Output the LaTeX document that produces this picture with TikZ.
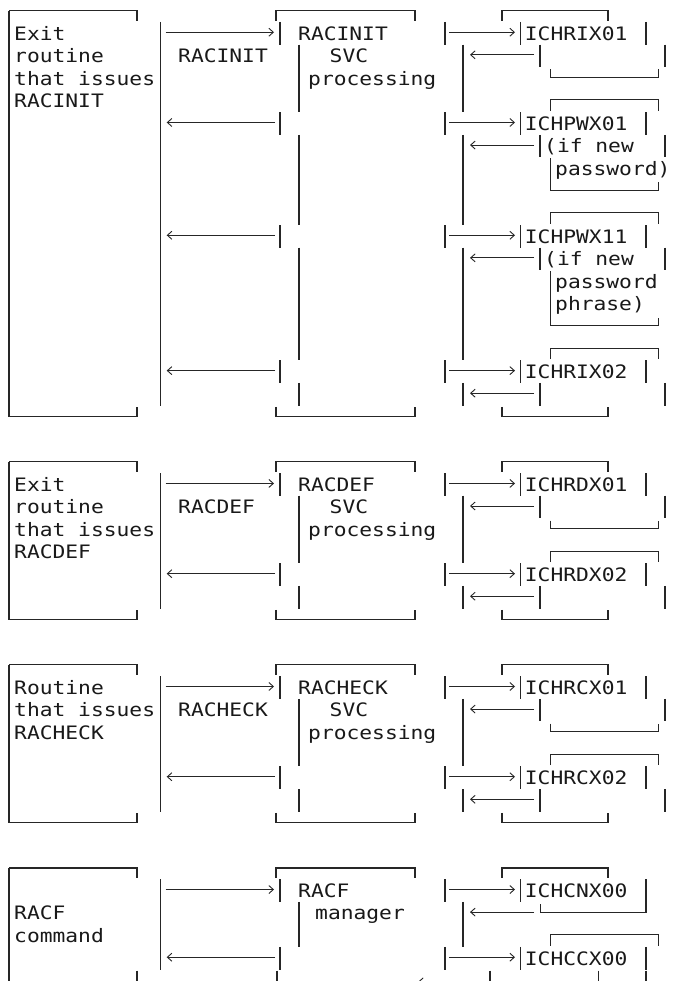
\documentclass[tikz,border=0pt]{standalone}
\usepackage{fontspec}
\newfontfamily\asciimono[FakeStretch=1.15]{DejaVu Sans Mono}
\usetikzlibrary{arrows.meta}

\begin{document}
\begin{tikzpicture}[
  x=1pt, y=-22.56pt,
  >={Straight Barb[length=4.5pt,width=8pt]},
  rule/.style={line width=1.05pt, draw=black!85},
  flow/.style={line width=0.9pt, draw=black!85, ->},
  txt/.style={font=\asciimono\fontsize{18.5}{20}\selectfont, anchor=base west, inner sep=0pt, text=black!90},
]

\useasboundingbox (0pt,0pt) rectangle (673pt,-981pt);
\fill[white] (0pt,0pt) rectangle (673pt,-981pt);
\clip (0pt,0pt) rectangle (673pt,-981pt);

\begin{scope}[yshift=-10.7pt]

% --- Box tops and bottoms ---
\foreach \ry in {0, 20, 29, 38} {
  \draw[rule] (9,\ry) -- (137,\ry) -- (137,\ry+0.44);
  \draw[rule] (276,\ry+0.44) -- (276,\ry) -- (415,\ry) -- (415,\ry+0.44);
  \draw[rule] (502,\ry+0.44) -- (502,\ry) -- (608,\ry) -- (608,\ry+0.44);
}
\foreach \ry in {18, 27, 36} {
  \draw[rule] (9,\ry) -- (137,\ry) -- (137,\ry-0.44);
  \draw[rule] (276,\ry-0.44) -- (276,\ry) -- (415,\ry) -- (415,\ry-0.44);
  \draw[rule] (502,\ry-0.44) -- (502,\ry) -- (608,\ry) -- (608,\ry-0.44);
}

% --- Caller box sides ---
\foreach \ya/\yb in {0/18, 20/27, 29/36, 38/44}
  \draw[rule] (9,\ya) -- (9,\yb);
\foreach \ya/\yb in {0.5/17.5, 20.5/26.5, 29.5/35.5, 38.5/42.5}
  \draw[rule] (160.7,\ya) -- (160.7,\yb);

% --- Rows with a forward arrow to an exit ---
\foreach \ry in {1, 5, 10, 16, 21, 25, 30, 34, 39, 42} {
  \foreach \x in {280, 445, 520.7, 646}
    \draw[rule] (\x,\ry-0.5) -- (\x,\ry+0.5);
  \draw[flow] (449,\ry-0.045) -- (515,\ry-0.045);
}
\foreach \ry in {1, 21, 30, 39}
  \draw[flow] (165.7,\ry-0.045) -- (274,\ry-0.045);
\foreach \ry in {5, 10, 16, 25, 34, 42}
  \draw[flow] (275,\ry-0.045) -- (166.7,\ry-0.045);

% --- Plain rows ---
\foreach \ya/\yb in {1.5/4.5, 5.5/9.5, 10.5/15.5, 16.5/17.5, 21.5/24.5, 25.5/26.5, 30.5/33.5, 34.5/35.5, 39.5/41.5} {
  \draw[rule] (299,\ya) -- (299,\yb);
  \draw[rule] (463,\ya) -- (463,\yb);
}

% Return from exit
\foreach \ry in {2, 6, 11, 17, 22, 26, 31, 35, 40}
  \draw[flow] (534,\ry-0.045) -- (470,\ry-0.045);
\foreach \ry in {2, 6, 11, 17, 22, 26, 31, 35} {
  \draw[rule] (540,\ry-0.5) -- (540,\ry+0.5);
  \draw[rule] (665,\ry-0.5) -- (665,\ry+0.5);
}

% --- Exit boxes ---
\foreach \ry in {3, 8, 14, 23, 32}
  \draw[rule] (550.7,\ry-0.4) -- (550.7,\ry-0.045) -- (658.3,\ry-0.045) -- (658.3,\ry-0.4);
\foreach \ry in {4, 9, 15, 24, 33, 41}
  \draw[rule] (550.7,\ry+0.44) -- (550.7,\ry-0.045) -- (658.3,\ry-0.045) -- (658.3,\ry+0.44);
\draw[rule] (550.7,6.55) -- (550.7,7.6);
\draw[rule] (550.7,11.55) -- (550.7,13.6);
\draw[rule] (540.7,39.6) -- (540.7,39.955) -- (646,39.955) -- (646,39.5);

% Cut-off last row
\foreach \x in {137, 277, 490, 598.5, 646}
  \draw[rule] (\x,42.55) -- (\x,43.5);
\draw[flow] (484,43.05) -- (418,43.05);

% --- RACINIT ---
\node[txt] (init1) at (14,1.3) {Exit};
\node[txt] (init2) at (14,2.3) {routine};
\node[txt] (init3) at (14,3.3) {that issues};
\node[txt] (init4) at (14,4.3) {RACINIT};
\node[txt] (initcall) at (178,2.3) {RACINIT};
\node[txt] (initsvc1) at (298,1.3) {RACINIT};
\node[txt] (initsvc2) at (329.5,2.3) {SVC};
\node[txt] (initsvc3) at (308,3.3) {processing};
\node[txt] (ichrix01) at (524.7,1.3) {ICHRIX01};
\node[txt] (ichpwx01) at (524.7,5.3) {ICHPWX01};
\node[txt] (ichpwx01a) at (544,6.3) {(if new};
\node[txt] (ichpwx01b) at (555,7.3) {password)};
\node[txt] (ichpwx11) at (524.7,10.3) {ICHPWX11};
\node[txt] (ichpwx11a) at (544,11.3) {(if new};
\node[txt] (ichpwx11b) at (555,12.3) {password};
\node[txt] (ichpwx11c) at (555,13.3) {phrase)};
\node[txt] (ichrix02) at (524.7,16.3) {ICHRIX02};

% --- RACDEF ---
\begin{scope}[shift={(0,20)}]
  \node[txt] (def1) at (14,1.3) {Exit};
  \node[txt] (def2) at (14,2.3) {routine};
  \node[txt] (def3) at (14,3.3) {that issues};
  \node[txt] (def4) at (14,4.3) {RACDEF};
  \node[txt] (defcall) at (178,2.3) {RACDEF};
  \node[txt] (defsvc1) at (298,1.3) {RACDEF};
  \node[txt] (defsvc2) at (329.5,2.3) {SVC};
  \node[txt] (defsvc3) at (308,3.3) {processing};
  \node[txt] (ichrdx01) at (524.7,1.3) {ICHRDX01};
  \node[txt] (ichrdx02) at (524.7,5.3) {ICHRDX02};
\end{scope}

% --- RACHECK ---
\begin{scope}[shift={(0,29)}]
  \node[txt] (chk1) at (14,1.3) {Routine};
  \node[txt] (chk2) at (14,2.3) {that issues};
  \node[txt] (chk3) at (14,3.3) {RACHECK};
  \node[txt] (chkcall) at (178,2.3) {RACHECK};
  \node[txt] (chksvc1) at (298,1.3) {RACHECK};
  \node[txt] (chksvc2) at (329.5,2.3) {SVC};
  \node[txt] (chksvc3) at (308,3.3) {processing};
  \node[txt] (ichrcx01) at (524.7,1.3) {ICHRCX01};
  \node[txt] (ichrcx02) at (524.7,5.3) {ICHRCX02};
\end{scope}

% --- RACF command ---
\begin{scope}[shift={(0,38)}]
  \node[txt] (cmd1) at (14,2.3) {RACF};
  \node[txt] (cmd2) at (14,3.3) {command};
  \node[txt] (mgr1) at (298,1.3) {RACF};
  \node[txt] (mgr2) at (315,2.3) {manager};
  \node[txt] (ichcnx00) at (524.7,1.3) {ICHCNX00};
  \node[txt] (ichccx00) at (524.7,4.3) {ICHCCX00};
\end{scope}

\end{scope}
\end{tikzpicture}
\end{document}
